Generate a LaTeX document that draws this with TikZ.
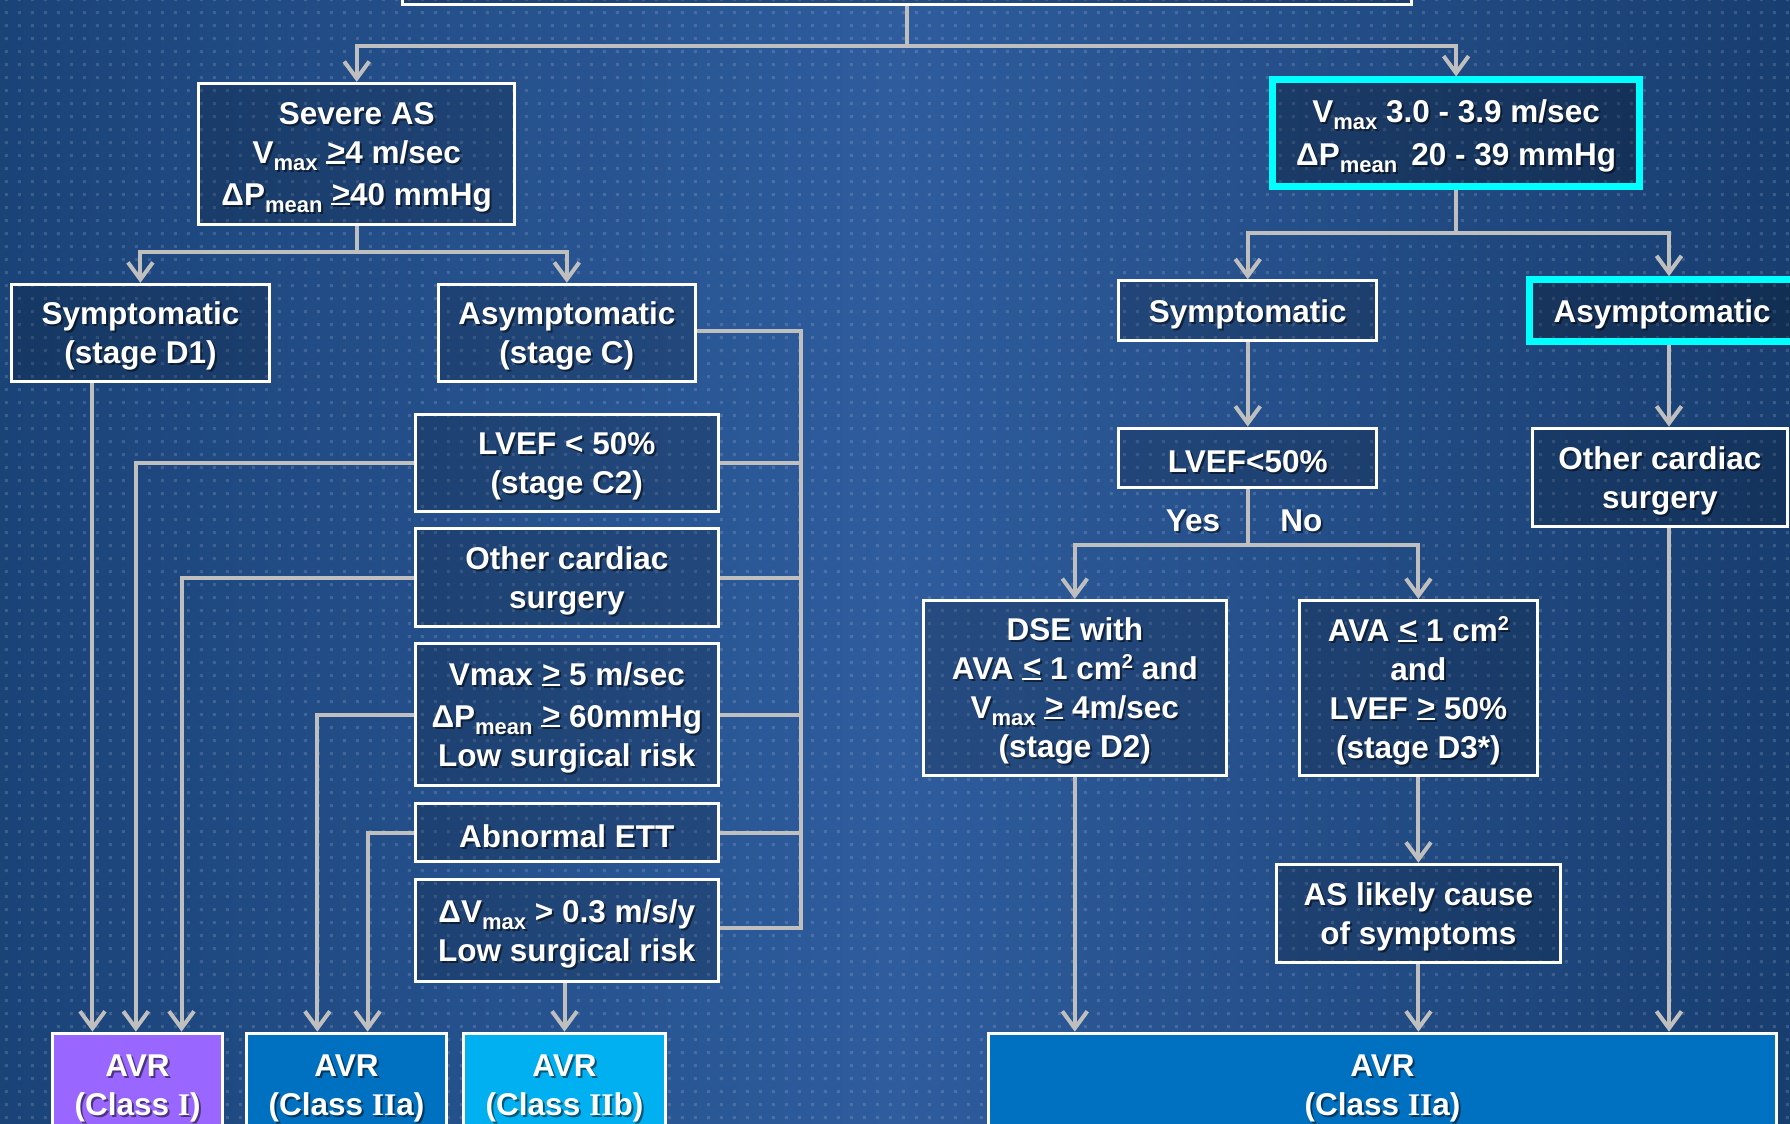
\documentclass[tikz,border=0pt]{standalone}
\usepackage{fontspec}
\setmainfont{Liberation Sans}
\newfontfamily\rmn{Liberation Serif}
\usetikzlibrary{arrows.meta,fit,patterns.meta,calc}
\definecolor{bgL}{HTML}{1A4378}
\definecolor{bgM}{HTML}{2E5C9D}
\definecolor{bgR}{HTML}{183E70}
\definecolor{cy}{HTML}{00FFFF}
\definecolor{cn}{HTML}{BFBFBF}
\definecolor{purp}{HTML}{9966FF}
\definecolor{btwoa}{HTML}{0070C0}
\definecolor{btwob}{HTML}{00B0F0}
\tikzdeclarepattern{name=gdots, type=uncolored,
  bounding box={(0pt,0pt) and (13pt,13pt)}, tile size={(13pt,13pt)},
  code={\pgfpathrectangle{\pgfpoint{5pt}{5pt}}{\pgfpoint{3pt}{3pt}}\pgfusepath{fill}}}
\newcommand\sbs[1]{\raisebox{-7pt}{\fontsize{22}{22}\selectfont #1}}
\newcommand\sps[1]{\raisebox{11pt}{\fontsize{20}{20}\selectfont #1}}
\newcommand\gee{\mbox{\rlap{\raisebox{0.07em}{\kern0.02em>}}\rule{0.6em}{0.075em}}}
\newcommand\lee{\mbox{\rlap{\raisebox{0.07em}{\kern0.02em<}}\rule{0.6em}{0.075em}}}
\tikzset{
  box/.style={draw=white, line width=3pt, fill=black, fill opacity=0.17, draw opacity=1, inner sep=0pt},
  cybox/.style={box, draw=cy, line width=7pt, fill opacity=0.25},
  solidbox/.style={draw=white, line width=3pt, inner sep=0pt},
  lbl/.style={text=white, align=center, inner sep=0pt, font=\fontsize{31.5}{39}\selectfont\bfseries},
  shd/.style={lbl, text=black, text opacity=0.5},
  conn/.style={draw=cn, line width=4pt},
  arr/.style={conn, -{Straight Barb[length=17pt,width=25pt]}},
}
\newcommand\bx[5][box]{%
  \node[#1, fit={#3 #4}] (#2) {};
  \node[shd] (#2s) at ([xshift=2pt,yshift=-5.5pt]#2.center) {#5};
  \node[lbl] (#2t) at ([yshift=-3.5pt]#2.center) {#5};
}
\newcommand\tx[3]{%
  \node[shd] (#1s) at ([xshift=2pt,yshift=-2pt]#2) {#3};
  \node[lbl] (#1) at (#2) {#3};
}
\begin{document}
\begin{tikzpicture}[x=1.1416pt,y=-1.1416pt]
\useasboundingbox (0,0) rectangle (1568,984);
\clip (0,0) rectangle (1568,984);
\shade[left color=bgL, right color=bgR, middle color=bgM] (0,0) rectangle (1568,984);
\fill[pattern=gdots, pattern color=white, opacity=0.14] (0,0) rectangle (1568,984);

% boxes
\node[box, fit={(353,-40) (1236,4)}] (top) {};
\bx{sev}{(174,73)}{(451,197)}{Severe AS\\V\sbs{max} \gee4 m/sec\\[2.5pt]ΔP\sbs{mean} \gee40 mmHg}
\bx[cybox]{mod}{(1115,70)}{(1436,163)}{V\sbs{max} 3.0 - 3.9 m/sec\\[4pt]ΔP\sbs{mean}\, 20 - 39 mmHg}
\bx{d1}{(10,249)}{(236,334)}{Symptomatic\\(stage D1)}
\bx{sc}{(384,249)}{(609,334)}{Asymptomatic\\(stage C)}
\bx{c2}{(364,363)}{(629,448)}{LVEF < 50\%\\(stage C2)}
\bx{oc}{(364,463)}{(629,549)}{Other cardiac\\surgery}
\bx{vm}{(364,564)}{(629,688)}{Vmax \gee\ 5 m/sec\\[2.5pt]ΔP\sbs{mean} \gee\ 60mmHg\\Low surgical risk}
\bx{ett}{(364,704)}{(629,755)}{Abnormal ETT}
\bx{dv}{(364,770)}{(629,860)}{ΔV\sbs{max} > 0.3 m/s/y\\Low surgical risk}
\bx[solidbox,fill=purp]{avrA}{(46,905)}{(195,995)}{AVR\\(Class {\rmn I})}
\bx[solidbox,fill=btwoa]{avrB}{(216,905)}{(391,995)}{AVR\\(Class {\rmn II}a)}
\bx[solidbox,fill=btwob]{avrC}{(406,905)}{(583,995)}{AVR\\(Class {\rmn II}b)}
\bx[solidbox,fill=btwoa]{avrR}{(866,905)}{(1556,995)}{AVR\\(Class {\rmn II}a)}
\bx{rs}{(980,246)}{(1206,298)}{Symptomatic}
\bx[cybox]{ra}{(1340,245)}{(1572,299)}{Asymptomatic}
\bx{lv}{(980,375)}{(1206,427)}{LVEF<50\%}
\bx{roc}{(1342,375)}{(1566,461)}{Other cardiac\\surgery}
\bx{dse}{(809,526)}{(1074,679)}{DSE with\\AVA \lee\ 1 cm\sps{2} and\\V\sbs{max} \gee\ 4m/sec\\(stage D2)}
\bx{ava}{(1138,526)}{(1347,679)}{AVA \lee\ 1 cm\sps{2}\\and\\LVEF \gee\ 50\%\\(stage D3*)}
\bx{asl}{(1118,757)}{(1367,843)}{AS likely cause\\of symptoms}
\tx{yes}{1045,456}{Yes}
\tx{no}{1140,456}{No}

% connectors
\draw[arr] (top.south) -- (top.south |- 0,40) -| (sev.north);
\draw[arr] (top.south |- 0,40) -| (mod.north);
\draw[arr] (sev.south) -- (sev.south |- 0,221) -| (d1.north);
\draw[arr] (sev.south |- 0,221) -| (sc.north);
\coordinate (busT) at (702,290);
\coordinate (busB) at (702,813);
\draw[conn] (sc.east |- busT) -- (busT) -- (busB) -- (dv.east |- busB);
\draw[conn] (c2.east) -- (c2.east -| busT);
\draw[conn] (oc.east) -- (oc.east -| busT);
\draw[conn] (vm.east) -- (vm.east -| busT);
\draw[conn] (ett.east) -- (ett.east -| busT);
\draw[arr] (d1.south -| 81,0) -- (avrA.north -| 81,0);
\draw[arr] (c2.west) -| (avrA.north -| 119,0);
\draw[arr] (oc.west) -| (avrA.north -| 159,0);
\draw[arr] (vm.west) -| (avrB.north -| 278,0);
\draw[arr] (ett.west) -| (avrB.north -| 322,0);
\draw[arr] (dv.south -| avrC.north) -- (avrC.north);
% right side
\coordinate (mj) at (mod.south |- 0,204);
\draw[arr] (mod.south) -- (mj) -| (rs.north);
\draw[arr] (mj) -| (ra.north -| 1462,0);
\draw[arr] (rs.south) -- (lv.north);
\draw[arr] (ra.south -| 1462,0) -- (roc.north -| 1462,0);
\draw[arr] (roc.south -| 1462,0) -- (avrR.north -| 1462,0);
\coordinate (lj) at (lv.south |- 0,477);
\draw[arr] (lv.south) -- (lj) -| (dse.north);
\draw[arr] (lj) -| (ava.north);
\draw[arr] (ava.south) -- (asl.north -| ava.south);
\draw[arr] (asl.south -| ava.south) -- (avrR.north -| ava.south);
\draw[arr] (dse.south) -- (avrR.north -| dse.south);
\end{tikzpicture}
\end{document}
